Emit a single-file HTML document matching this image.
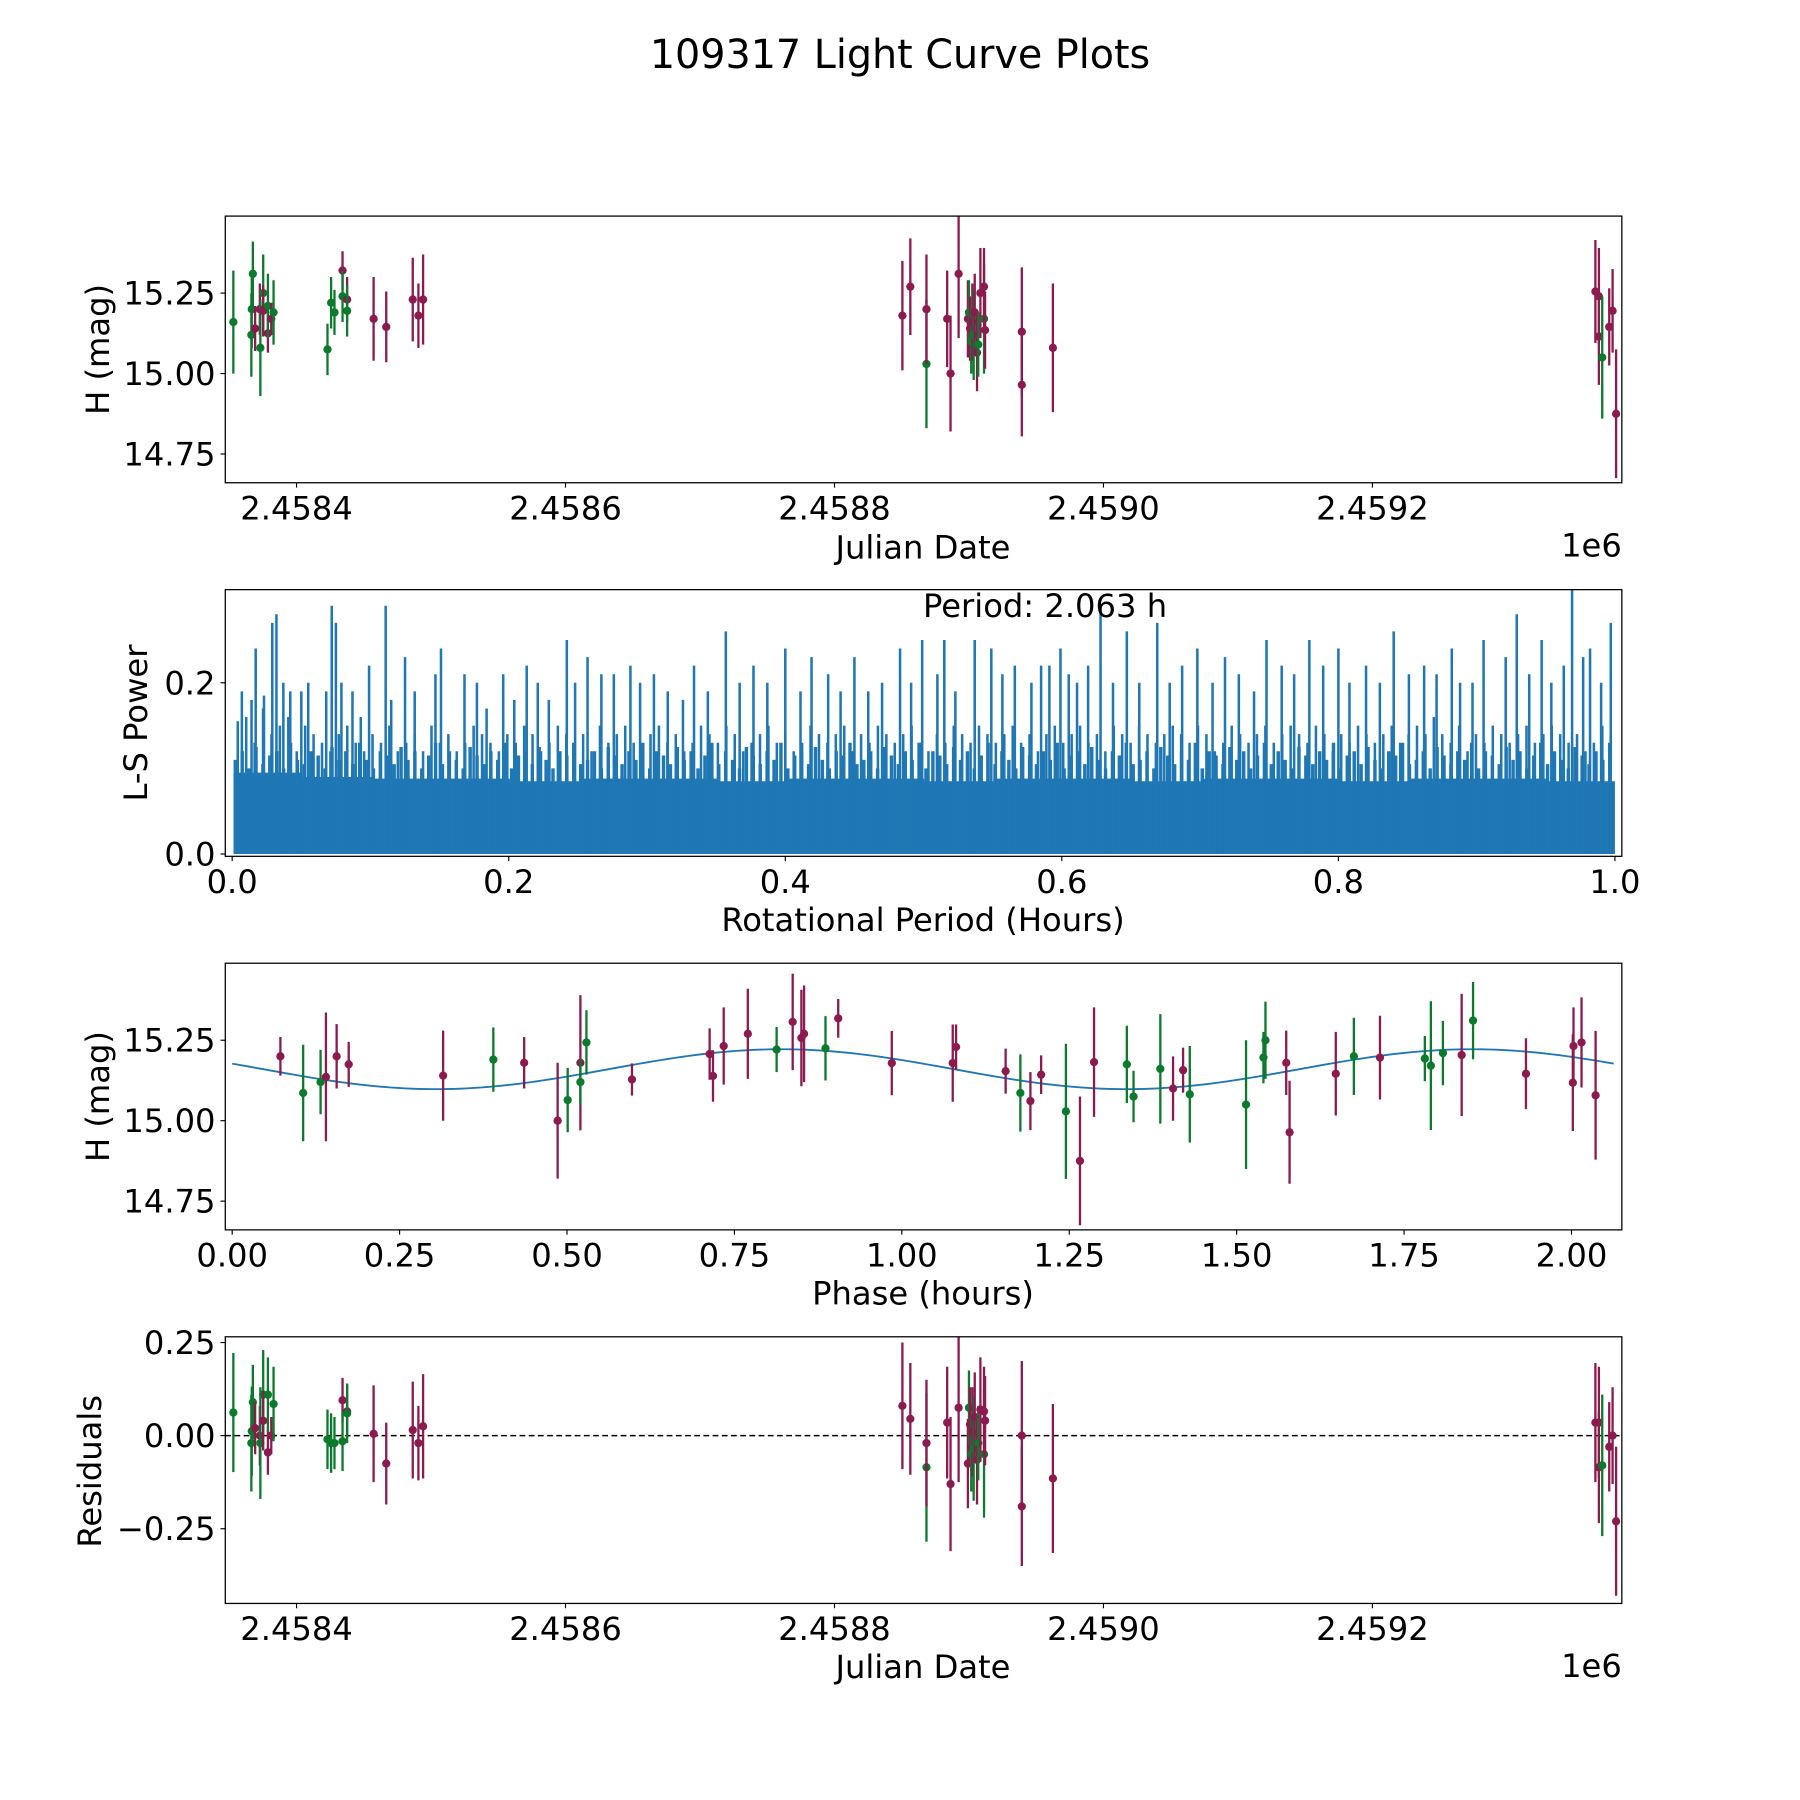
<!DOCTYPE html>
<html><head><meta charset="utf-8"><title>109317 Light Curve Plots</title>
<style>html,body{margin:0;padding:0;background:#fff}svg{display:block}text{font-family:"DejaVu Sans","Liberation Sans",sans-serif;fill:#000}</style>
</head><body>
<svg id="fig" xmlns="http://www.w3.org/2000/svg" width="1800" height="1800" viewBox="0 0 1566 1566">
<rect x="0" y="0" width="1566" height="1566" fill="#fff"/>
<text x="783" y="59" font-size="34.5" text-anchor="middle">109317 Light Curve Plots</text>
</svg>
<script>
// ---- Light curve observations (JD - 2458000) ----
const obsDay=[353.0,366.7,367.5,366.4,369.2,372.7,373.1,375.2,375.2,378.7,378.7,381.2,382.9,423.0,425.7,428.2,434.2,434.2,437.6,437.6,457.3,466.7,486.4,490.6,494.1,850.5,856.4,868.4,868.4,883.8,886.3,892.3,899.2,900.0,900.8,901.7,902.5,903.5,904.3,906.0,906.9,908.5,911.2,911.2,912.0,939.3,939.3,962.4,1365.8,1368.4,1368.4,1370.9,1376.1,1378.6,1381.2];
const obsMag=[15.16,15.20,15.31,15.12,15.14,15.20,15.08,15.25,15.195,15.125,15.21,15.17,15.19,15.075,15.22,15.19,15.32,15.24,15.23,15.195,15.17,15.145,15.23,15.18,15.23,15.18,15.27,15.03,15.20,15.17,15.00,15.31,15.17,15.19,15.14,15.10,15.16,15.12,15.19,15.065,15.09,15.25,15.17,15.27,15.135,15.13,14.965,15.08,15.255,15.24,15.115,15.05,15.145,15.195,14.875];
const obsErr=[0.16,0.12,0.1,0.13,0.07,0.08,0.15,0.12,0.08,0.06,0.1,0.05,0.1,0.08,0.08,0.07,0.06,0.08,0.07,0.08,0.13,0.11,0.13,0.1,0.14,0.17,0.15,0.2,0.17,0.15,0.18,0.2,0.12,0.1,0.1,0.1,0.12,0.14,0.12,0.12,0.1,0.14,0.17,0.12,0.12,0.2,0.16,0.2,0.16,0.15,0.15,0.19,0.12,0.13,0.2];
const obsResid=[0.062,0.012,0.09,-0.02,0.02,0,-0.02,0.11,0.04,-0.045,0.11,0,0.085,-0.01,-0.02,-0.02,0.095,-0.015,0.065,0.06,0.005,-0.075,0.015,-0.02,0.025,0.08,0.045,-0.085,-0.02,0.035,-0.13,0.075,-0.075,0.075,0.03,-0.05,0.01,-0.035,0.05,-0.065,-0.02,0.07,-0.05,0.065,0.04,0,-0.19,-0.115,0.035,0.035,-0.085,-0.08,-0.03,0,-0.23];
const obsBand=['g','g','g','g','m','m','g','g','m','m','g','m','g','g','g','g','m','g','m','g','m','m','m','m','m','m','m','g','m','m','m','m','m','g','m','g','m','g','m','m','g','m','g','m','m','m','m','m','m','m','m','g','m','m','m'];
// ---- Phase-folded points ----
const phaseX=[0.072,0.106,0.132,0.140,0.156,0.174,0.315,0.39,0.436,0.486,0.501,0.52,0.52,0.529,0.597,0.713,0.718,0.734,0.77,0.813,0.837,0.85,0.854,0.886,0.905,0.985,1.076,1.081,1.155,1.177,1.192,1.208,1.245,1.266,1.287,1.336,1.346,1.386,1.405,1.42,1.43,1.514,1.54,1.543,1.574,1.579,1.648,1.675,1.714,1.781,1.79,1.808,1.836,1.853,1.932,2.002,2.003,2.015,2.036];
const phaseMag=[15.20,15.086,15.12,15.136,15.20,15.175,15.14,15.19,15.18,15.00,15.064,15.18,15.12,15.243,15.128,15.207,15.139,15.232,15.27,15.221,15.307,15.257,15.27,15.225,15.318,15.179,15.179,15.229,15.154,15.086,15.061,15.143,15.029,14.875,15.182,15.175,15.075,15.161,15.10,15.157,15.082,15.05,15.196,15.25,15.18,14.964,15.146,15.20,15.196,15.193,15.171,15.21,15.204,15.311,15.146,15.118,15.232,15.243,15.079];
const phaseErr=[0.06,0.15,0.1,0.2,0.1,0.07,0.14,0.1,0.08,0.18,0.1,0.21,0.07,0.1,0.05,0.08,0.08,0.12,0.14,0.07,0.15,0.15,0.15,0.1,0.06,0.1,0.12,0.07,0.07,0.12,0.09,0.06,0.21,0.2,0.17,0.12,0.08,0.17,0.1,0.07,0.15,0.2,0.08,0.12,0.1,0.16,0.13,0.12,0.13,0.07,0.2,0.1,0.19,0.12,0.11,0.15,0.12,0.14,0.2];
const phaseBand=['m','g','g','m','m','m','m','g','m','m','g','m','g','g','m','m','m','m','m','g','m','m','m','g','m','m','m','m','m','g','m','m','g','m','m','g','g','g','m','m','g','g','g','g','m','m','m','g','m','g','g','g','m','g','m','m','m','m','m'];
const modelParams=[15.16,0.062,2.063,-3.424]; // mean, amplitude, period (h), phase offset
// ---- Periodogram ----
const peakPeriod=[.007,.014,.017,.023,.029,.032,.037,.042,.050,.055,.068,.072,.075,.079,.087,.093,.099,.111,.115,.125,.132,.147,.151,.168,.177,.184,.196,.204,.213,.221,.229,.242,.248,.257,.267,.276,.288,.295,.305,.315,.326,.334,.344,.357,.367,.377,.387,.400,.411,.419,.431,.440,.450,.460,.470,.483,.491,.499,.510,.515,.523,.537,.549,.557,.566,.578,.585,.591,.599,.605,.611,.619,.628,.637,.647,.656,.669,.678,.687,.698,.709,.718,.728,.739,.748,.759,.768,.779,.789,.800,.808,.820,.830,.840,.851,.862,.871,.882,.888,.897,.905,.921,.929,.938,.947,.954,.963,.969,.977,.982,.990,.997];
const peakPower=[.19,.18,.24,.185,.27,.28,.20,.19,.19,.2,.19,.29,.27,.2,.19,.16,.22,.29,.18,.23,.19,.21,.24,.21,.20,.17,.21,.18,.22,.2,.18,.25,.2,.23,.21,.21,.22,.2,.21,.19,.18,.22,.19,.26,.2,.22,.2,.24,.19,.23,.21,.19,.23,.19,.2,.24,.2,.25,.21,.25,.19,.25,.24,.21,.22,.2,.22,.22,.24,.21,.2,.22,.29,.2,.26,.2,.27,.2,.22,.24,.2,.23,.21,.19,.25,.22,.21,.25,.22,.24,.2,.22,.2,.26,.21,.22,.21,.24,.2,.2,.25,.23,.28,.21,.25,.2,.22,.31,.23,.24,.2,.27];
const minorPower=[.155,.16,.13,.17,.14,.15,.16,.12,.15,.14,.13,.12,.14,.15,.13,.12,.14,.13,.15,.12,.13,.14,.12,.15,.13,.14,.12,.13,.15,.14,.13,.12,.14,.13,.15,.14,.12,.13,.15,.14,.13,.14,.12,.15,.13,.14,.15,.13,.12,.14,.15,.13,.14,.12,.13,.15,.14,.13,.15,.14,.12,.13,.14,.15,.13,.14,.12,.13,.15,.14,.13,.14,.15,.12,.14,.13,.15,.14,.13,.14,.15,.13,.12,.14,.13,.15,.14,.13,.15,.14,.13,.14,.15,.13,.14,.12,.14,.15,.13,.14,.15,.13,.14,.12,.15,.14,.13,.15,.14,.13,.14,.15,.14,.13,.15,.14,.12,.13,.15,.14,.13,.14,.15,.13,.14,.15,.14,.13,.15,.14,.12,.14,.13,.15,.14,.13,.14,.15,.13,.14,.15,.14,.16,.14,.13,.15,.12,.14,.13,.15,.14,.13,.14,.15,.13,.14,.15,.14,.13,.14,.12,.13,.15,.14];
const minorPower2=[.11,.12,.1,.125,.105,.115,.12,.1,.13,.11,.105,.12,.115,.1,.125,.11,.12,.105,.13,.11,.1,.12,.115,.105,.125,.11,.12,.1,.115,.13,.105,.12,.11,.1,.125,.115,.105,.12,.11,.13,.1,.115,.12,.105,.125,.11,.1,.12,.115,.13,.105,.11,.12,.1,.125,.115,.105,.12,.11,.13,.1,.12,.115,.105,.125,.11,.12,.1,.115,.13,.105,.12,.11,.1,.125,.115,.105,.12,.11,.13,.1,.115,.12,.105,.125,.11,.1,.12,.115,.13,.105,.11,.12,.1,.125,.115,.105,.12,.11,.13,.1,.12,.115,.105,.125,.11,.12,.1,.115,.13,.105,.12,.11,.1,.125,.115,.105,.12,.11,.13,.1,.115,.12,.105,.125,.11,.1,.12,.115,.13,.105,.11,.12,.1,.125,.115,.105,.12,.11,.13,.1,.12,.115,.105,.125,.11,.12,.1,.115,.13,.105,.12,.11,.1,.125,.115,.105,.12,.11,.13,.1,.115,.12,.105,.125,.11,.1,.12,.115,.13,.105,.11,.12,.1,.125,.115,.105,.12,.11,.13,.1,.12,.115,.105,.125,.11,.12,.1,.115,.13,.105,.12,.11,.1,.125,.115,.105,.12,.11,.13];
const floorPower=[.095,.09,.088,.088,.085,.088,.088,.085,.088,.088,.085,.088,.088,.085,.088,.088,.085,.088,.088,.085];
const periodRange=[0.001,1.0];
const bestPeriodLabel=["Period: 2.063 h"];
// ---- ticks ----
const jdTicks=[400,600,800,1000,1200];
const jdTickLabels=["2.4584","2.4586","2.4588","2.4590","2.4592"];
const magTicks=[15.25,15.00,14.75];
const magTickLabels=["15.25","15.00","14.75"];
const powTicks=[0,0.2];
const powTickLabels=["0.0","0.2"];
const perTicks=[0,0.2,0.4,0.6,0.8,1.0];
const perTickLabels=["0.0","0.2","0.4","0.6","0.8","1.0"];
const phTicks=[0,0.25,0.5,0.75,1.0,1.25,1.5,1.75,2.0];
const phTickLabels=["0.00","0.25","0.50","0.75","1.00","1.25","1.50","1.75","2.00"];
const resTicks=[0.25,0,-0.25];
const resTickLabels=["0.25","0.00","\u22120.25"];

const NS="http://www.w3.org/2000/svg";
const svg=document.getElementById('fig');
const COL={g:'#0b7a2c',m:'#8b1a4f'};
const FS=28;
const L=196,R=1411;
const AX=[{t:188,b:420},{t:513,b:745},{t:838,b:1070},{t:1163,b:1395}];
function el(tag,parent){const e=document.createElementNS(NS,tag);(parent||svg).appendChild(e);return e;}
function sa(e,o){for(const k in o)e.setAttribute(k,o[k]);return e;}

const xJD=d=>258+(d-400)*1.17;
const yMag1=m=>255-(m-15.25)*280;
const yMag3=m=>905-(m-15.25)*280;
const xPh=p=>202+p*582.6;
const yRes=r=>1249-r*324;
const xPer=p=>202+p*1203;
const yPow=v=>743-v*745;

const defs=el('defs');
AX.forEach((a,i)=>{const cp=el('clipPath',defs);cp.setAttribute('id','clip'+i);sa(el('rect',cp),{x:L,y:a.t,width:R-L,height:a.b-a.t});});

function axesFrame(i,name){
  const g=el('g');
  
  
  return g;
}
function frame(i,g){const a=AX[i];const r=el('rect',g);sa(r,{x:L,y:a.t,width:R-L,height:a.b-a.t,fill:'none',stroke:'#000','stroke-width':1.1});
  }
function xticks(i,g,vals,labs,fx,name){
  const a=AX[i];
  vals.forEach((v,k)=>{const x=fx(v);
    const t=el('line',g);sa(t,{x1:x,x2:x,y1:a.b,y2:a.b+4.2,stroke:'#000','stroke-width':1});
    
    const tx=el('text',g);sa(tx,{x:x,y:a.b+32,'font-size':FS,'text-anchor':'middle'});tx.textContent=labs[k];
    });
}
function yticks(i,g,vals,labs,fy,name){
  vals.forEach((v,k)=>{const y=fy(v);
    const t=el('line',g);sa(t,{x1:L-4.2,x2:L,y1:y,y2:y,stroke:'#000','stroke-width':1});
    
    const tx=el('text',g);sa(tx,{x:L-8.5,y:y+10,'font-size':FS,'text-anchor':'end'});tx.textContent=labs[k];
    });
}
function label(g,txt,x,y,rot,name){const t=el('text',g);sa(t,{x:x,y:y,'font-size':FS,'text-anchor':'middle'});
  if(rot)t.setAttribute('transform','rotate(-90 '+x+' '+y+')');t.textContent=txt;
  return t;}
function errPoint(g,x,y,y1,y2,c){
  const ln=el('line',g);sa(ln,{x1:x,x2:x,y1:y1,y2:y2,stroke:c,'stroke-width':2});
  
  const ci=el('circle',g);sa(ci,{cx:x,cy:y,r:3.6,fill:c});
  
}

// ===== Axes 1 =====
let g1=axesFrame(0,'light-curve-axes');
let p1=el('g',g1);p1.setAttribute('clip-path','url(#clip0)');

obsDay.forEach((d,k)=>{errPoint(p1,xJD(d),yMag1(obsMag[k]),yMag1(obsMag[k]+obsErr[k]),yMag1(obsMag[k]-obsErr[k]),COL[obsBand[k]]);});
frame(0,g1);
xticks(0,g1,jdTicks,jdTickLabels,xJD,'x-axis');
yticks(0,g1,magTicks,magTickLabels,yMag1,'y-axis');
label(g1,'Julian Date',803,486,false,'x-axis-title');
label(g1,'H (mag)',95,304,true,'y-axis-title');
let oe=el('text',g1);sa(oe,{x:R,y:484,'font-size':FS,'text-anchor':'end'});oe.textContent='1e6';


// ===== Axes 2 =====
let g2=axesFrame(1,'periodogram-axes');
let p2=el('g',g2);p2.setAttribute('clip-path','url(#clip1)');

{const n=floorPower.length;const span=periodRange[1]-periodRange[0];let d='M'+xPer(periodRange[0])+' '+yPow(0);
 floorPower.forEach((v,k)=>{const xa=xPer(periodRange[0]+span*k/n),xb=xPer(periodRange[0]+span*(k+1)/n);d+=' L'+xa+' '+yPow(v)+' L'+xb+' '+yPow(v);});
 d+=' L'+xPer(periodRange[1])+' '+yPow(0)+' Z';
 const ar=el('path',p2);sa(ar,{d:d,fill:'#1f77b4'});
 }
[[minorPower2,0.25,3],[minorPower,0.5,2.2]].forEach(([arr,off,w])=>{const n=arr.length;const span=periodRange[1]-periodRange[0];
 arr.forEach((v,k)=>{const x=xPer(periodRange[0]+span*(k+off)/n);
  const ln=el('line',p2);sa(ln,{x1:x,x2:x,y1:yPow(0),y2:yPow(v),stroke:'#1f77b4','stroke-width':w});
  });});
peakPeriod.forEach((p,k)=>{if(peakPower[k]===undefined)return;const x=xPer(p);
  const ln=el('line',p2);sa(ln,{x1:x,x2:x,y1:yPow(0),y2:yPow(peakPower[k]),stroke:'#1f77b4','stroke-width':2.2});
  });
frame(1,g2);
xticks(1,g2,perTicks,perTickLabels,xPer,'x-axis');
yticks(1,g2,powTicks,powTickLabels,yPow,'y-axis');
label(g2,'Rotational Period (Hours)',803,810,false,'x-axis-title');
label(g2,'L-S Power',128,629,true,'y-axis-title');
let pl=el('text',g2);sa(pl,{x:803,y:537,'font-size':FS,'text-anchor':'start'});pl.textContent=bestPeriodLabel[0];


// ===== Axes 3 =====
let g3=axesFrame(2,'phase-axes');
let p3=el('g',g3);p3.setAttribute('clip-path','url(#clip2)');

{let d='';const P=modelParams[2];for(let k=0;k<=200;k++){const ph=P*k/200;const m=modelParams[0]+modelParams[1]*Math.sin(2*Math.PI*2*ph/P+modelParams[3]);d+=(k?' L':'M')+xPh(ph).toFixed(2)+' '+yMag3(m).toFixed(2);}
 const mc=el('path',p3);sa(mc,{d:d,fill:'none',stroke:'#1f77b4','stroke-width':1.6});
 }
phaseX.forEach((p,k)=>{errPoint(p3,xPh(p),yMag3(phaseMag[k]),yMag3(phaseMag[k]+phaseErr[k]),yMag3(phaseMag[k]-phaseErr[k]),COL[phaseBand[k]]);});
frame(2,g3);
xticks(2,g3,phTicks,phTickLabels,xPh,'x-axis');
yticks(2,g3,magTicks,magTickLabels,yMag3,'y-axis');
label(g3,'Phase (hours)',803,1135,false,'x-axis-title');
label(g3,'H (mag)',95,954,true,'y-axis-title');

// ===== Axes 4 =====
let g4=axesFrame(3,'residuals-axes');
let p4=el('g',g4);p4.setAttribute('clip-path','url(#clip3)');

{const z=el('line',p4);sa(z,{x1:L,x2:R,y1:yRes(0),y2:yRes(0),stroke:'#000','stroke-width':1.4,'stroke-dasharray':'5,3'});
 }
obsDay.forEach((d,k)=>{errPoint(p4,xJD(d),yRes(obsResid[k]),yRes(obsResid[k]+obsErr[k]),yRes(obsResid[k]-obsErr[k]),COL[obsBand[k]]);});
frame(3,g4);
xticks(3,g4,jdTicks,jdTickLabels,xJD,'x-axis');
yticks(3,g4,resTicks,resTickLabels,yRes,'y-axis');
label(g4,'Julian Date',803,1460,false,'x-axis-title');
label(g4,'Residuals',88,1280,true,'y-axis-title');
let oe4=el('text',g4);sa(oe4,{x:R,y:1459,'font-size':FS,'text-anchor':'end'});oe4.textContent='1e6';

</script>
</body></html>
